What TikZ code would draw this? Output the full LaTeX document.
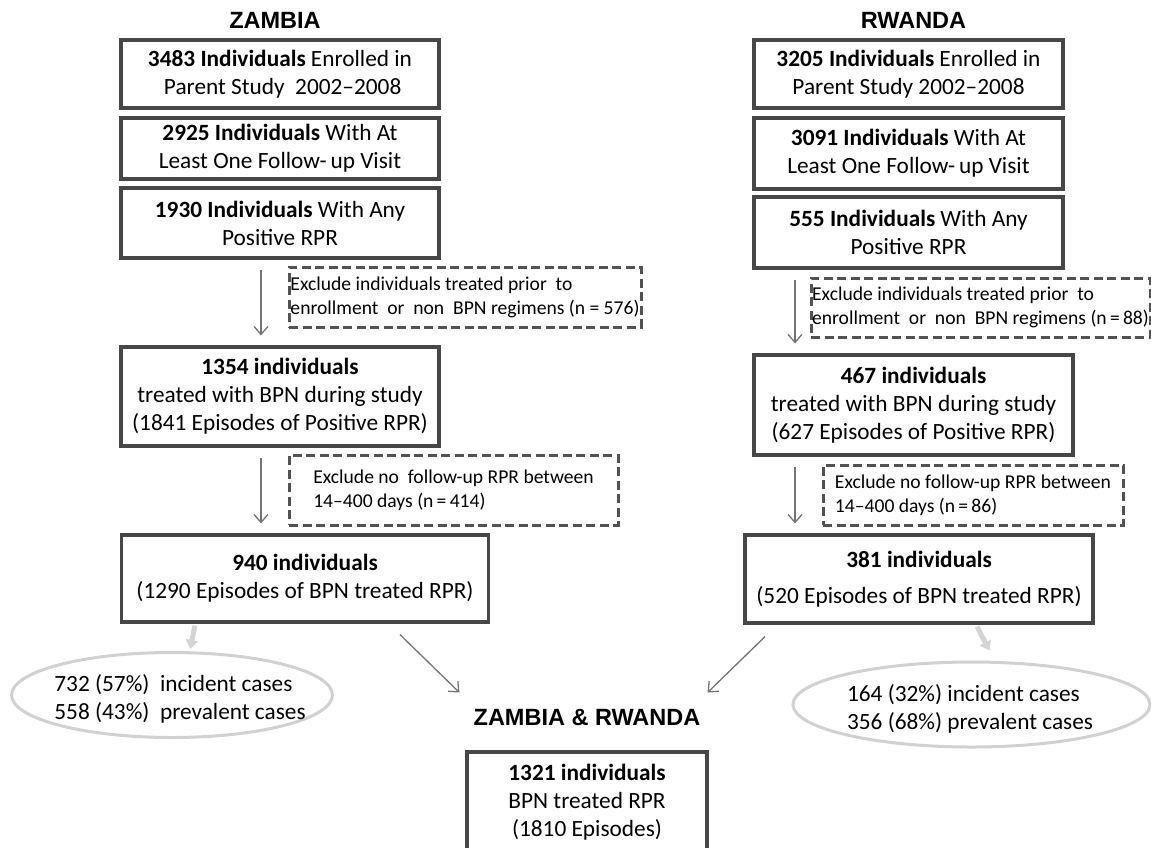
\documentclass[tikz,border=0pt]{standalone}
\usepackage{fontspec}
\setmainfont{Carlito}
\newfontfamily\headfont{Liberation Sans}
\usetikzlibrary{positioning, arrows.meta, shapes.geometric}

\begin{document}
\begin{tikzpicture}[x=1pt,y=-1pt,font=\fontsize{23.3}{28}\selectfont,
  box/.style={draw=black!72, line width=3.2pt, align=center, inner sep=0pt},
  exclbox/.style={draw=black!68, line width=3pt, dash pattern=on 9pt off 4.5pt, align=left, inner sep=0pt, font=\fontsize{19.6}{24}\selectfont},
  cases/.style={ellipse, draw=black!18, line width=3pt, inner sep=0pt},
  title/.style={inner sep=0pt, font=\headfont\bfseries\fontsize{23.5}{27}\selectfont},
  flow/.style={draw=black!55, line width=1.3pt, -{Straight Barb[length=8pt,width=14pt]}, shorten <=10pt, shorten >=10pt},
  split/.style={draw=black!17, line width=5pt, -{Triangle[length=9pt,width=12pt]}}]

\useasboundingbox (0,0) rectangle (1151,847);

% Zambia column
\node[box, minimum width=318pt, minimum height=68pt] (zam_enrolled) at (280,74) {\textbf{3483 Individuals} Enrolled in\\\ Parent Study\ \ 2002--2008};
\node[box, minimum width=318pt, minimum height=61pt] (zam_visit) at (280,148.5) {\textbf{2925 Individuals} With At\\Least One Follow-\,up Visit};
\node[box, minimum width=318pt, minimum height=70pt] (zam_positive) at (280,223) {\textbf{1930 Individuals} With Any\\Positive RPR};
\node[exclbox, minimum width=352pt, minimum height=60pt] (zam_excl_prior) at (465,297) {Exclude individuals treated prior\ \ to\\enrollment\ \ or\ \ non\ \ BPN regimens (n = 576)};
\node[box, minimum width=318pt, minimum height=99pt] (zam_bpn) at (280,396.5) {\textbf{1354 individuals}\\treated with BPN during study\\(1841 Episodes of Positive RPR)};
\node[exclbox, minimum width=329pt, minimum height=70pt] (zam_excl_fu) at (453.5,490) {Exclude no\ \ follow-up RPR between\\14--400 days (n\,=\,414)};
\node[box, minimum width=367pt, minimum height=87pt] (zam_final) at (305,578.5) {\textbf{940 individuals}\\(1290 Episodes of BPN treated RPR)};
\node[title, above=10pt of zam_enrolled, xshift=-5pt] (zam_title) {ZAMBIA};

% Rwanda column
\node[box, minimum width=309pt, minimum height=68pt] (rwa_enrolled) at (908.5,74) {\textbf{3205 Individuals} Enrolled in\\Parent Study 2002--2008};
\node[box, minimum width=309pt, minimum height=71pt] (rwa_visit) at (908.5,153.5) {\textbf{3091 Individuals} With At\\Least One Follow-\,up Visit};
\node[box, minimum width=309pt, minimum height=71pt] (rwa_positive) at (908.5,232.5) {\textbf{555 Individuals} With Any\\Positive RPR};
\node[exclbox, minimum width=339pt, minimum height=59pt] (rwa_excl_prior) at (980.5,307.5) {Exclude individuals treated prior\ \ to\\enrollment\ \ or\ \ non\ \ BPN regimens (n\,=\,88)};
\node[box, minimum width=319pt, minimum height=100pt] (rwa_bpn) at (913.5,405) {\textbf{467 individuals}\\treated with BPN during study\\(627 Episodes of Positive RPR)};
\node[exclbox, minimum width=300pt, minimum height=60pt] (rwa_excl_fu) at (973,495) {Exclude no follow-up RPR between\\14--400 days (n\,=\,86)};
\node[box, minimum width=348pt, minimum height=88pt] (rwa_final) at (919,579) {\textbf{381 individuals}\\[8pt](520 Episodes of BPN treated RPR)};
\node[title, above=10pt of rwa_enrolled, xshift=5pt] (rwa_title) {RWANDA};

% Cases
\node[cases, minimum width=321pt, minimum height=85pt] (zam_cases) at (172,695) {};
\node[align=left, inner sep=0pt] (zam_cases_text) at (180,698.5) {732 (57\%)\ \ incident cases\\558 (43\%)\ \ prevalent cases};
\node[cases, minimum width=357pt, minimum height=85pt] (rwa_cases) at (971.5,704.5) {};
\node[align=left, inner sep=0pt] (rwa_cases_text) at (970,708.5) {164 (32\%) incident cases\\356 (68\%) prevalent cases};

% Combined
\node[box, minimum width=240pt, minimum height=100pt] (both_final) at (587,802) {\textbf{1321 individuals}\\BPN treated RPR\\(1810 Episodes)};
\node[title, above=24pt of both_final] (both_title) {ZAMBIA \& RWANDA};

% Arrows
\coordinate (zam_lane) at (261,0);
\coordinate (rwa_lane) at (795,0);
\draw[flow] (zam_positive.south -| zam_lane) -- (zam_bpn.north -| zam_lane);
\draw[flow] (zam_bpn.south -| zam_lane) -- (zam_final.north -| zam_lane);
\draw[flow] (rwa_positive.south -| rwa_lane) -- (rwa_bpn.north -| rwa_lane);
\draw[flow] (rwa_bpn.south -| rwa_lane) -- (rwa_final.north -| rwa_lane);
\draw[flow, shorten <=0pt, shorten >=0pt] ([xshift=95pt,yshift=-11pt]zam_final.south) -- ([xshift=-14pt,yshift=17pt]both_title.north west);
\draw[flow, shorten <=0pt, shorten >=0pt] ([xshift=-154pt,yshift=-12pt]rwa_final.south) -- ([xshift=7pt,yshift=17pt]both_title.north east);
\draw[split] ([xshift=-110pt,yshift=-2pt]zam_final.south) -- ([xshift=18pt,yshift=2pt]zam_cases.north);
\draw[split] ([xshift=58pt,yshift=-2pt]rwa_final.south) -- ([xshift=18pt,yshift=10pt]rwa_cases.north);
\end{tikzpicture}
\end{document}
